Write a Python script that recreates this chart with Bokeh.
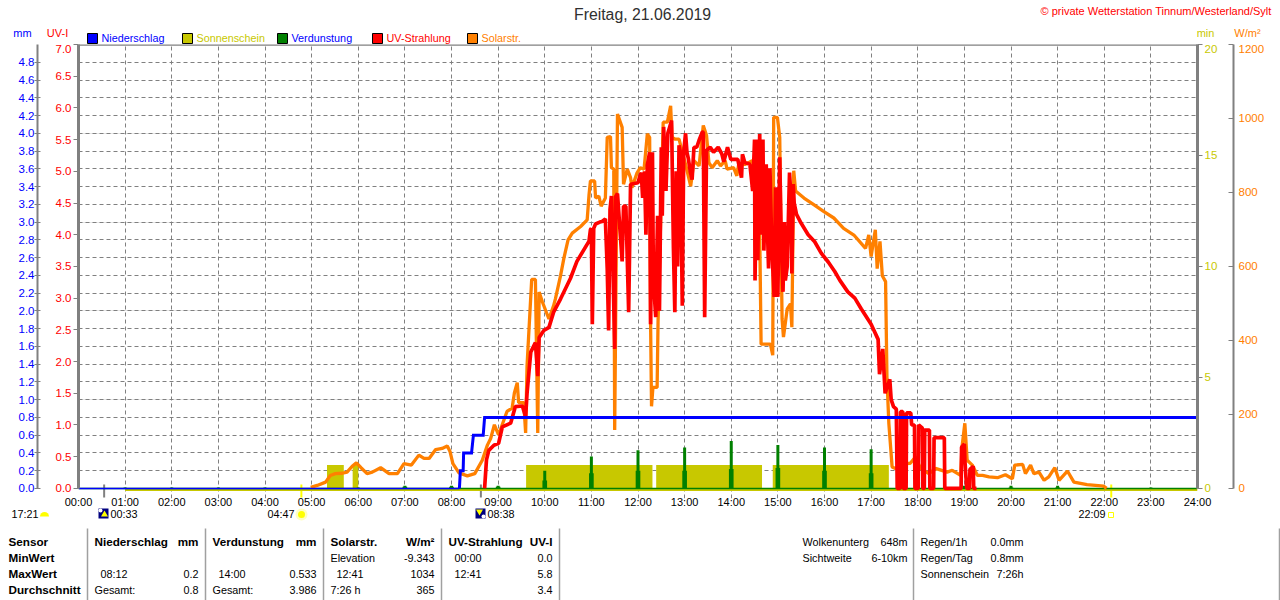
from math import pi
from bokeh.plotting import figure
from bokeh.layouts import column
from bokeh.models import (Range1d, LinearAxis, Grid, FixedTicker, Label, Span)
from bokeh.embed import file_html
from bokeh.resources import INLINE

hours = list(range(25))
hour_labels = {h: f"{h:02d}:00" for h in hours}

rain_t = [0, 8.17, 8.19, 8.25, 8.26, 8.43, 8.47, 8.68, 8.71, 24]
rain_mm = [0, 0, 0.2, 0.2, 0.4, 0.4, 0.6, 0.6, 0.8, 0.8]

sun_start = [5.33, 5.88, 9.60, 12.39, 14.89]
sun_end = [5.69, 6.00, 12.31, 14.66, 17.38]
sun_min = [1.05, 1.05, 1.05, 1.05, 1.05]

evap_t = list(range(1, 24))
evap_mm = [0.01, 0.01, 0.01, 0.01, 0.0, 0.01, 0.03, 0.03, 0.03, 0.2, 0.36, 0.43, 0.46, 0.533, 0.49, 0.46, 0.44, 0.15, 0.03, 0.03, 0.03, 0.02, 0.01]
evap_low = [0.0, 0.0, 0.0, 0.0, 0.0, 0.0, 0.02, 0.02, 0.02, 0.09, 0.17, 0.2, 0.2, 0.22, 0.23, 0.2, 0.17, 0.07, 0.01, 0.01, 0.01, 0.0, 0.0]

event_t = [0.55, 8.63]
sun_event_t = [4.78, 22.15]

solar_t = [4.98, 5.12, 5.30, 5.40, 5.51, 5.66, 5.76, 5.87, 5.96, 6.06, 6.19, 6.30, 6.48, 6.66, 6.84, 6.98, 7.14, 7.30, 7.41, 7.52, 7.66, 7.80, 7.91, 7.97, 8.03, 8.16, 8.34, 8.50, 8.66, 8.77, 8.84, 8.92, 9.01, 9.19, 9.30, 9.35, 9.41, 9.44, 9.55, 9.59, 9.62, 9.72, 9.80, 9.85, 9.88, 9.95, 10.09, 10.19, 10.23, 10.34, 10.41, 10.50, 10.59, 10.77, 10.91, 10.95, 10.98, 11.07, 11.09, 11.16, 11.21, 11.30, 11.34, 11.41, 11.43, 11.48, 11.50, 11.56, 11.66, 11.69, 11.77, 11.84, 11.87, 11.98, 12.05, 12.13, 12.20, 12.25, 12.27, 12.29, 12.32, 12.41, 12.43, 12.54, 12.63, 12.70, 12.73, 12.80, 12.88, 13.02, 13.13, 13.20, 13.31, 13.40, 13.47, 13.52, 13.59, 13.70, 13.77, 13.87, 13.91, 14.05, 14.12, 14.16, 14.30, 14.45, 14.60, 14.64, 14.84, 14.89, 14.91, 14.99, 15.04, 15.09, 15.12, 15.20, 15.27, 15.30, 15.34, 15.38, 15.56, 15.77, 15.98, 16.20, 16.41, 16.63, 16.88, 16.95, 17.00, 17.09, 17.13, 17.19, 17.24, 17.31, 17.34, 17.38, 17.45, 17.52, 17.70, 17.84, 17.95, 18.06, 18.24, 18.38, 18.63, 18.74, 18.92, 18.95, 19.01, 19.06, 19.17, 19.28, 19.39, 19.53, 19.71, 19.88, 20.03, 20.08, 20.25, 20.31, 20.42, 20.49, 20.60, 20.71, 20.81, 20.94, 21.03, 21.21, 21.35, 21.63, 21.99, 22.05]
solar_w = [3, 8, 17, 35, 40, 41, 44, 60, 69, 56, 40, 44, 56, 40, 40, 67, 63, 90, 81, 81, 105, 108, 115, 99, 67, 42, 34, 40, 76, 117, 135, 172, 145, 208, 217, 259, 286, 232, 232, 150, 331, 565, 565, 150, 531, 504, 458, 494, 513, 576, 622, 672, 690, 708, 726, 794, 831, 831, 785, 790, 763, 785, 949, 951, 867, 863, 158, 1012, 976, 822, 863, 840, 813, 853, 867, 863, 958, 949, 445, 222, 273, 273, 450, 990, 990, 1034, 949, 944, 944, 876, 817, 886, 872, 981, 954, 881, 867, 886, 872, 886, 863, 867, 845, 876, 876, 886, 800, 390, 390, 360, 1003, 1003, 949, 458, 409, 485, 499, 436, 859, 804, 785, 767, 749, 731, 703, 685, 649, 685, 627, 699, 594, 668, 575, 559, 295, 176, 58, 54, 67, 68, 85, 54, 40, 54, 44, 49, 35, 113, 176, 76, 63, 35, 35, 31, 29, 37, 26, 63, 65, 40, 63, 40, 44, 22, 31, 56, 22, 47, 17, 10, 6, 0]

uv_t = [8.71, 8.75, 8.80, 8.91, 9.01, 9.09, 9.27, 9.37, 9.52, 9.59, 9.62, 9.70, 9.80, 9.85, 9.88, 9.98, 10.09, 10.19, 10.34, 10.55, 10.69, 10.95, 10.98, 11.00, 11.02, 11.05, 11.09, 11.18, 11.23, 11.30, 11.34, 11.37, 11.40, 11.43, 11.46, 11.50, 11.52, 11.56, 11.66, 11.69, 11.74, 11.80, 11.84, 11.87, 12.00, 12.03, 12.07, 12.10, 12.14, 12.17, 12.20, 12.25, 12.27, 12.31, 12.33, 12.38, 12.42, 12.46, 12.50, 12.52, 12.55, 12.60, 12.64, 12.68, 12.72, 12.76, 12.79, 12.82, 12.85, 12.88, 12.91, 12.95, 12.98, 13.02, 13.05, 13.08, 13.12, 13.16, 13.20, 13.26, 13.31, 13.38, 13.40, 13.43, 13.47, 13.55, 13.62, 13.72, 13.80, 13.84, 13.92, 13.99, 14.14, 14.22, 14.24, 14.29, 14.40, 14.46, 14.50, 14.51, 14.55, 14.57, 14.61, 14.64, 14.68, 14.70, 14.75, 14.78, 14.80, 14.83, 14.87, 14.92, 14.95, 15.00, 15.02, 15.04, 15.07, 15.11, 15.14, 15.16, 15.20, 15.25, 15.28, 15.30, 15.33, 15.35, 15.40, 15.50, 15.65, 15.79, 15.93, 16.08, 16.22, 16.33, 16.50, 16.65, 16.79, 17.00, 17.15, 17.18, 17.25, 17.30, 17.40, 17.43, 17.48, 17.54, 17.56, 17.62, 17.63, 17.68, 17.69, 17.75, 17.76, 17.85, 17.87, 17.93, 17.94, 18.01, 18.02, 18.10, 18.11, 18.14, 18.15, 18.25, 18.26, 18.34, 18.35, 18.57, 18.58, 18.93, 18.94, 19.00, 19.01, 19.05, 19.11, 19.12, 19.19, 19.20, 19.26]
uv_i = [0, 0.45, 0.60, 0.68, 0.71, 0.97, 1.03, 1.29, 1.30, 1.13, 1.50, 2.15, 2.30, 1.77, 2.38, 2.49, 2.54, 2.78, 2.99, 3.31, 3.58, 3.90, 4.08, 4.10, 2.59, 4.10, 4.17, 4.20, 4.21, 4.25, 3.47, 2.49, 4.40, 4.61, 3.60, 2.20, 4.60, 4.65, 3.58, 4.45, 4.45, 2.78, 4.79, 4.80, 4.82, 4.90, 4.98, 4.58, 5.00, 4.00, 5.10, 5.30, 2.59, 5.30, 3.30, 2.70, 4.30, 2.80, 5.38, 4.30, 5.70, 4.69, 5.60, 5.70, 5.80, 3.79, 2.78, 5.00, 3.50, 5.41, 5.30, 2.88, 5.30, 5.60, 5.30, 5.20, 5.00, 4.87, 5.38, 5.38, 5.49, 5.62, 5.62, 2.70, 5.33, 5.38, 5.30, 5.38, 5.27, 5.15, 5.38, 5.19, 5.19, 4.90, 5.27, 5.14, 5.11, 4.69, 5.50, 3.28, 5.50, 3.60, 5.59, 4.00, 5.50, 3.75, 5.11, 4.00, 3.47, 5.05, 3.80, 3.02, 4.75, 3.02, 4.20, 5.22, 4.00, 3.10, 4.20, 3.28, 3.50, 4.98, 4.60, 3.39, 4.80, 4.50, 4.32, 4.18, 4.00, 3.89, 3.71, 3.57, 3.42, 3.28, 3.10, 3.00, 2.83, 2.59, 2.35, 1.80, 2.20, 1.50, 1.72, 1.40, 1.29, 1.25, 0, 0, 1.21, 1.21, 0, 0, 1.19, 1.19, 1.00, 1.00, 0, 0, 1.00, 0.95, 0, 0, 0.92, 0.92, 0, 0, 0.80, 0.80, 0, 0, 0.65, 0.70, 0.45, 0, 0, 0.30, 0.35, 0, 0]

uv_ticks = [0, 0.5, 1, 1.5, 2, 2.5, 3, 3.5, 4, 4.5, 5, 5.5, 6, 6.5, 7]
mm_ticks = [0, 0.2, 0.4, 0.6, 0.8, 1.0, 1.2, 1.4, 1.6, 1.8, 2.0, 2.2, 2.4, 2.6, 2.8, 3.0, 3.2, 3.4, 3.6, 3.8, 4.0, 4.2, 4.4, 4.6, 4.8]
grid_ticks = mm_ticks + [5.0]
min_ticks = [0, 5, 10, 15, 20]
wm_ticks = [0, 200, 400, 600, 800, 1000, 1200]

FONT = "Liberation Sans"
GRAY = "#808080"
BLUE, OLIVE, GREEN, RED, ORANGE = "#0000FF", "#C8C800", "#008000", "#FF0000", "#FF8000"
YELLOW = "#FFFF00"
PAD = 10 / 88  # the frame runs 10px under the zero line: base strips and day markers live there

p = figure(width=1280, height=466, output_backend="svg", toolbar_location=None,
           x_range=Range1d(0, 24), y_range=Range1d(-PAD, 5), frame_align=False,
           x_axis_location="below", y_axis_location=None,
           min_border_left=78, min_border_right=83, min_border_top=0, min_border_bottom=12)
p.extra_y_ranges = {
    "uv": Range1d(-PAD * 7 / 5, 7),
    "sun": Range1d(-PAD * 4, 20),
    "wm": Range1d(-PAD * 240, 1200),
}
p.outline_line_color = None
p.xgrid.visible = False

xa = p.xaxis[0]
xa.ticker = FixedTicker(ticks=hours)
xa.major_label_overrides = hour_labels
xa.axis_line_color = None
xa.major_tick_line_color = None
xa.minor_tick_line_color = None
xa.major_tick_in = 0
xa.major_tick_out = 0
xa.major_label_standoff = -3
xa.major_label_text_font = FONT
xa.major_label_text_font_size = "11px"
xa.major_label_text_color = "black"

def yaxis(range_name, ticks, color, bounds, width, tick_in, tick_out, standoff):
    kw = {"y_range_name": range_name} if range_name else {}
    a = LinearAxis(ticker=FixedTicker(ticks=ticks), bounds=bounds, **kw)
    a.axis_line_color = GRAY
    a.axis_line_width = width
    a.major_tick_line_color = GRAY
    a.major_tick_in = tick_in
    a.major_tick_out = tick_out
    a.minor_tick_line_color = None
    a.major_label_standoff = standoff
    a.major_label_text_color = color
    a.major_label_text_font = FONT
    a.major_label_text_font_size = "11.5px"
    return a

uv_ax = yaxis("uv", uv_ticks, RED, (0, 7), 3, 0, 5, 2)
uv_ax.major_label_overrides = {t: f"{t:.1f}" for t in uv_ticks}
uv_ax.axis_label = " "
uv_ax.axis_label_text_font_size = "1px"
uv_ax.axis_label_standoff = 11
mm_ax = yaxis(None, mm_ticks, BLUE, (0, 5), 2, 3, 3, 0)
mm_ax.major_label_overrides = {t: f"{t:.1f}" for t in mm_ticks}
p.add_layout(uv_ax, "left")
p.add_layout(mm_ax, "left")

min_ax = yaxis("sun", min_ticks, OLIVE, (0, 20), 3, 0, 5, 2)
min_ax.axis_label = " "
min_ax.axis_label_text_font_size = "1px"
min_ax.axis_label_standoff = 9
wm_ax = yaxis("wm", wm_ticks, ORANGE, (0, 1200), 2, 5, 0, 5)
p.add_layout(min_ax, "right")
p.add_layout(wm_ax, "right")

for dim, ticks in ((0, hours[1:-1]), (1, grid_ticks)):
    g = Grid(dimension=dim, ticker=FixedTicker(ticks=ticks), bounds=(0, 5) if dim == 0 else (0, 24))
    g.grid_line_color = GRAY
    g.grid_line_dash = "4 3"
    g.grid_line_width = 1
    p.add_layout(g)

# marks -------------------------------------------------------------
p.segment(x0=event_t, x1=event_t, y0=[-9 / 88] * 2, y1=[4 / 88] * 2, line_color=GRAY, line_width=2)
p.segment(x0=sun_event_t, x1=sun_event_t, y0=[-9 / 88] * 2, y1=[4 / 88] * 2, line_color=YELLOW, line_width=2)
p.quad(left=sun_start, right=sun_end, bottom=[0] * len(sun_min), top=sun_min, y_range_name="sun",
       fill_color=OLIVE, line_color=None)
p.line([hours[1], hours[-1]], [-1.2 / 88, -1.2 / 88], line_color=OLIVE, line_width=3)
p.line([hours[0], hours[-1]], [0, 0], line_color=GREEN, line_width=1.5)
p.segment(x0=evap_t, x1=evap_t, y0=[0] * len(evap_t), y1=evap_mm, line_color=GREEN, line_width=3, line_cap="butt")
p.vbar(x=evap_t, width=0.1, bottom=0, top=evap_low, fill_color=GREEN, line_color=None)
p.line(solar_t, solar_w, y_range_name="wm", line_color=ORANGE, line_width=3.3, line_join="bevel")
p.line(uv_t, uv_i, y_range_name="uv", line_color=RED, line_width=3.7, line_join="bevel")
p.line(rain_t[:2], rain_mm[:2], line_color=BLUE, line_width=1.5)
p.line(rain_t[1:], rain_mm[1:], line_color=BLUE, line_width=3, line_join="miter")

# top border of the diagram
p.add_layout(Span(location=5, dimension="width", line_color=GRAY, line_width=2.5))


def strip(height, top, **kw):
    """A figure without axes whose data coordinates are the page's pixels."""
    f = figure(width=1280, height=height, output_backend="svg", toolbar_location=None,
               x_range=Range1d(0, 1280), y_range=Range1d(top + height, top), frame_align=False,
               x_axis_location=None, y_axis_location=None,
               min_border_left=0, min_border_right=0, min_border_top=0, min_border_bottom=0, **kw)
    f.outline_line_color = None
    f.grid.visible = False
    return f


def txt(f, x, y, s, color="black", size=10.8, align="left", bold=False):
    f.add_layout(Label(x=x, y=y - 1, text=s, text_color=color, text_font=FONT, text_font_size=f"{size}px",
                       text_align=align, text_baseline="middle",
                       text_font_style="bold" if bold else "normal"))


# header ------------------------------------------------------------
head = strip(44, 0)
txt(head, 642, 15, "Freitag, 21.06.2019", "#303030", 15.8, "center")
txt(head, 1040, 11, "© private Wetterstation Tinnum/Westerland/Sylt", RED, 11)
txt(head, 22, 33, "mm", BLUE, 11, "center")
txt(head, 57, 33, "UV-I", RED, 11, "center")
txt(head, 1205, 33, "min", OLIVE, 11, "center")
txt(head, 1247, 33, "W/m²", ORANGE, 11, "center")

legend_names = ["Niederschlag", "Sonnenschein", "Verdunstung", "UV-Strahlung", "Solarstr."]
legend_swatch = [BLUE, OLIVE, GREEN, RED, ORANGE]
legend_text = [BLUE, OLIVE, BLUE, RED, ORANGE]
for i, (s, c, tc) in enumerate(zip(legend_names, legend_swatch, legend_text)):
    x = 87 + 95 * i
    head.quad(left=[x], right=[x + 10], top=[33], bottom=[43], fill_color=c, line_color="black")
    txt(head, x + 14, 38, s, tc)

# footer: transparent, slides 5px over the bottom of the diagram so the time row keeps its full height
foot = strip(95, 505, margin=(-5, 0, 0, 0), background_fill_color=None, border_fill_color=None)
txt(foot, 11, 514, "17:21")
foot.wedge(x=[44], y=[516], radius=4.5, start_angle=0, end_angle=pi, fill_color=YELLOW, line_color=None)
foot.quad(left=[98, 475], right=[108, 485], top=[508, 508], bottom=[518, 518], fill_color="#000080", line_color=None)
foot.scatter(x=[100, 483], y=[510, 516], size=4, marker="circle", fill_color="white", line_color=None)
foot.scatter(x=[104], y=[514], size=7, marker="triangle", fill_color=YELLOW, line_color=None)
foot.scatter(x=[479], y=[511], size=7, marker="inverted_triangle", fill_color=YELLOW, line_color=None)
txt(foot, 110, 514, "00:33")
txt(foot, 267, 514, "04:47")
foot.scatter(x=[301], y=[514], size=12, marker="circle", fill_color="#FFFFC0", line_color=None)
foot.scatter(x=[301], y=[514], size=7, marker="circle", fill_color=YELLOW, line_color=None)
txt(foot, 487, 514, "08:38")
txt(foot, 1078, 514, "22:09")
foot.quad(left=[1108], right=[1113], top=[512], bottom=[517], fill_color=None, line_color=YELLOW)

ROWS = [542, 558, 574, 590]
for x in (87, 205, 323, 441, 559, 913, 1279):
    foot.segment(x0=[x], x1=[x], y0=[528], y1=[600], line_color="#A0A0A0", line_width=1.5)

for r, s in zip(ROWS, ("Sensor", "MinWert", "MaxWert", "Durchschnitt")):
    txt(foot, 8, r, s, bold=True, size=11.7)

txt(foot, 94, ROWS[0], "Niederschlag", bold=True, size=11.7)
txt(foot, 198, ROWS[0], "mm", bold=True, size=11.7, align="right")
txt(foot, 100, ROWS[2], "08:12")
txt(foot, 198, ROWS[2], "0.2", align="right")
txt(foot, 94, ROWS[3], "Gesamt:")
txt(foot, 198, ROWS[3], "0.8", align="right")

txt(foot, 212, ROWS[0], "Verdunstung", bold=True, size=11.7)
txt(foot, 316, ROWS[0], "mm", bold=True, size=11.7, align="right")
txt(foot, 218, ROWS[2], "14:00")
txt(foot, 316, ROWS[2], "0.533", align="right")
txt(foot, 212, ROWS[3], "Gesamt:")
txt(foot, 316, ROWS[3], "3.986", align="right")

txt(foot, 330, ROWS[0], "Solarstr.", bold=True, size=11.7)
txt(foot, 434, ROWS[0], "W/m²", bold=True, size=11.7, align="right")
txt(foot, 330, ROWS[1], "Elevation")
txt(foot, 434, ROWS[1], "-9.343", align="right")
txt(foot, 336, ROWS[2], "12:41")
txt(foot, 434, ROWS[2], "1034", align="right")
txt(foot, 330, ROWS[3], "7:26 h")
txt(foot, 434, ROWS[3], "365", align="right")

txt(foot, 448, ROWS[0], "UV-Strahlung", bold=True, size=11.7)
txt(foot, 552, ROWS[0], "UV-I", bold=True, size=11.7, align="right")
txt(foot, 454, ROWS[1], "00:00")
txt(foot, 552, ROWS[1], "0.0", align="right")
txt(foot, 454, ROWS[2], "12:41")
txt(foot, 552, ROWS[2], "5.8", align="right")
txt(foot, 552, ROWS[3], "3.4", align="right")

txt(foot, 802, ROWS[0], "Wolkenunterg")
txt(foot, 907, ROWS[0], "648m", align="right")
txt(foot, 802, ROWS[1], "Sichtweite")
txt(foot, 907, ROWS[1], "6-10km", align="right")
txt(foot, 920, ROWS[0], "Regen/1h")
txt(foot, 1023, ROWS[0], "0.0mm", align="right")
txt(foot, 920, ROWS[1], "Regen/Tag")
txt(foot, 1023, ROWS[1], "0.8mm", align="right")
txt(foot, 920, ROWS[2], "Sonnenschein")
txt(foot, 1023, ROWS[2], "7:26h", align="right")

page = column(head, p, foot, spacing=0)
open("out.html", "w").write(file_html(page, INLINE))
